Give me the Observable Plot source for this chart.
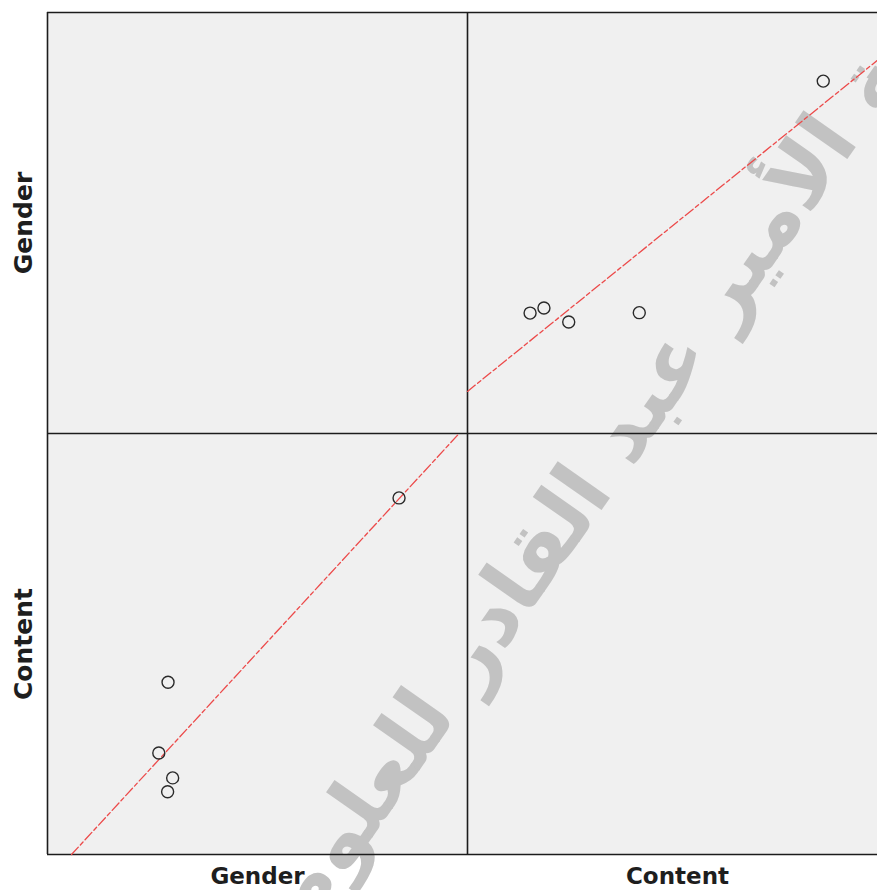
<!DOCTYPE html>
<html><head><meta charset="utf-8">
<script src="https://cdn.jsdelivr.net/npm/d3@7"></script>
<script src="https://cdn.jsdelivr.net/npm/@observablehq/plot@0.6"></script>
<style>html,body{margin:0;padding:0;background:#fff;overflow:hidden} svg{max-width:none !important}</style>
</head><body><div id="chart"></div>
<script>
// Variables of the scatterplot matrix
const variables = ["Gender", "Content"];
// Values (one per case)
const gender = [83.7, 28.7, 26.5, 29.8, 28.6];
const content = [84.7, 40.9, 24.1, 18.2, 14.9];
// Watermark text
const watermarkText = "جامعة الأمير عبد القادر للعلوم الإسلامية";

const values = {Gender: gender, Content: content};
// Each panel spans 100 units; the matrix is laid out on one 0–200 scale
const colOffset = {Gender: 0, Content: 100};
const rowOffset = {Content: 0, Gender: 100};

const points = [];
const fitLines = [];
for (const xv of variables) for (const yv of variables) {
  if (xv === yv) continue;
  const xs = values[xv], ys = values[yv];
  xs.forEach((x, i) => points.push({x: x + colOffset[xv], y: ys[i] + rowOffset[yv]}));
  const mx = d3.mean(xs), my = d3.mean(ys);
  const b = d3.sum(xs, (x, i) => (x - mx) * (ys[i] - my)) / d3.sum(xs, x => (x - mx) ** 2);
  const a = my - b * mx;
  const x0 = Math.max(0, (0 - a) / b), x1 = Math.min(100, (100 - a) / b);
  for (const x of [x0, x1]) fitLines.push({x: x + colOffset[xv], y: a + b * x + rowOffset[yv], key: xv + "|" + yv});
}

const labelStyle = {fontWeight: "bold", fill: "#1e1e1e", fontFamily: "DejaVu Sans", textAnchor: "middle", lineAnchor: "middle"};

const chart = Plot.plot({
  width: 887, height: 890,
  marginLeft: 47, marginRight: 0, marginTop: 12, marginBottom: 36,
  x: {domain: [0, 200], axis: null},
  y: {domain: [0, 200], axis: null},
  style: {background: "transparent"},
  marks: [
    Plot.frame({fill: "#f0f0f0", stroke: null}),
    Plot.text([watermarkText], {
      text: d => d, frameAnchor: "middle", dx: 56, dy: 141, rotate: -55,
      fontSize: 84, fontWeight: "bold", fill: "#c2c2c2", fontFamily: "DejaVu Sans"
    }),
    Plot.ruleX([0, 100, 200], {stroke: "#1c1c1c", strokeWidth: 1.6}),
    Plot.ruleY([0, 100, 200], {stroke: "#1c1c1c", strokeWidth: 1.6}),
    Plot.line(fitLines, {x: "x", y: "y", z: "key", stroke: "#ec4a4a", strokeWidth: 1.3, strokeDasharray: "10,3,4,3"}),
    Plot.dot(points, {x: "x", y: "y", r: 6, stroke: "#2a2a2a", strokeWidth: 1.4, fill: "none"}),
    Plot.text(variables, {text: d => d, x: d => colOffset[d] + 50, frameAnchor: "bottom", dy: 22, fontSize: 23, ...labelStyle}),
    Plot.text(variables, {text: d => d, y: d => rowOffset[d] + 50, frameAnchor: "left", dx: -24, rotate: -90, fontSize: 25, ...labelStyle})
  ]
});
document.getElementById("chart").appendChild(chart);
</script>
</body></html>
